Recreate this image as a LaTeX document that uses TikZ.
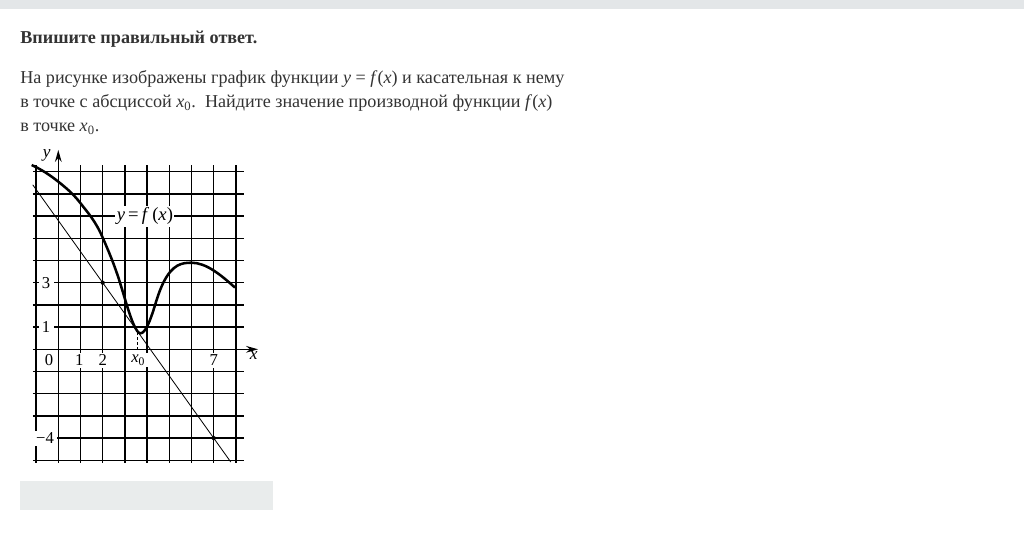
\documentclass[tikz,border=0pt]{standalone}
\usepackage{fontspec}
\setmainfont{Liberation Serif}
\usetikzlibrary{arrows.meta,calc}
\definecolor{band}{HTML}{E3E6E8}
\definecolor{boxgray}{HTML}{E9ECEC}
\definecolor{txt}{HTML}{333333}
\tikzset{
  bodytext/.style={anchor=base west, inner sep=0pt, text=txt, font=\fontsize{13.6pt}{16pt}\selectfont},
  gridline/.style={line width=1pt, black},
  curveline/.style={line width=1.9pt, black, line join=round},
  tline/.style={line width=0.6pt, black},
  lab/.style={fill=white, inner xsep=2.5pt, inner ysep=1.5pt, font=\fontsize{12.5pt}{14pt}\selectfont},
  axlab/.style={inner sep=0pt, font=\itshape\fontsize{13pt}{14pt}\selectfont},
  arr/.style={-{Stealth[length=9pt,width=5pt]}}
}
\begin{document}
\begin{tikzpicture}[x=0.75pt,y=-0.75pt]
\useasboundingbox (0,0) rectangle (1024,538);
\fill[white] (0,0) rectangle (1024,538);
\fill[band] (0,0) rectangle (1024,9);
\fill[boxgray] (20,481) rectangle (273,510);

\node[bodytext, font=\bfseries\fontsize{13.6pt}{16pt}\selectfont] (head) at (20,44) {Впишите правильный ответ.};
\node[bodytext] (l1) at (20,84) {На рисунке изображены график функции \textit{y} = \textit{f}(\textit{x}) и касательная к нему};
\node[bodytext] (l2) at (20,108) {в точке с абсциссой \textit{x}\textsubscript{0}.\ \ Найдите значение производной функции \textit{f}(\textit{x})};
\node[bodytext] (l3) at (20,132) {в точке \textit{x}\textsubscript{0}.};

\begin{scope}[shift={(58.3,349.3)}, x=16.65pt, y=16.65pt]
  % grid
  \foreach \i in {-5,-4,-3,-2,-1,1,2,3,4,5,6,7,8}
    \draw[gridline] (-1.15,\i) -- (8.35,\i);
  \foreach \i in {-1,1,2,3,4,5,6,7,8}
    \draw[gridline] (\i,-5.12) -- (\i,8.3);
  % axes
  \coordinate (xs) at (-1.15,0);
  \coordinate (xe) at (9.0,0);
  \coordinate (ys) at (0,-5.12);
  \coordinate (ye) at (0,8.98);
  \draw[gridline, arr] (xs) -- (xe);
  \draw[gridline, arr] (ys) -- (ye);

  % labels
  \node[lab] (n3) at (-0.55,3) {3};
  \node[lab] (n1y) at (-0.55,1) {1};
  \node[lab] (n0) at (-0.42,-0.5) {0};
  \node[lab] (n1) at (0.95,-0.5) {1};
  \node[lab] (n2) at (2,-0.5) {2};
  \node[lab] (nx0) at (3.6,-0.5) {\textit{x}\textsubscript{0}};
  \node[lab] (n7) at (7,-0.5) {7};
  \node[lab] (nm4) at (-0.6,-4) {−4};
  \node[axlab] (ylab) at (-0.52,8.75) {y};
  \node[axlab] (xlab) at (8.8,-0.3) {x};
  \node[lab, inner xsep=1pt, font=\fontsize{14pt}{16pt}\selectfont] (flab) at (3.9,6) {\textit{y}\,=\,\textit{f}\,(\textit{x})};

  % tangent line
  \coordinate (A) at (2,3);
  \coordinate (B) at (7,-4);
  \coordinate (T) at (3.55,0.83);
  \coordinate (Tx) at (3.55,0);
  \draw[tline] ($(A)!-0.63!(B)$) coordinate (ts) -- ($(A)!1.154!(B)$) coordinate (te);
  \fill (A) circle[radius=1.6pt];
  \fill (B) circle[radius=1.6pt];
  \draw[line width=0.6pt, dash pattern=on 2pt off 1.5pt] (Tx) -- (T);

  % curve
  \draw[curveline] (-1.2,8.3)
    .. controls (-0.8,8.12) and (-0.4,7.87) .. (0,7.55)
    .. controls (0.333,7.283) and (0.667,7.013) .. (1,6.58)
    .. controls (1.333,6.147) and (1.667,5.797) .. (2,5.03)
    .. controls (2.26,4.432) and (2.52,3.832) .. (2.78,3)
    .. controls (3.037,2.179) and (3.293,1.189) .. (T)
    .. controls (3.6,0.76) and (3.65,0.72) .. (3.7,0.72)
    .. controls (3.92,0.72) and (4.14,1.274) .. (4.36,2.0)
    .. controls (4.483,2.407) and (4.607,2.753) .. (4.73,3.0)
    .. controls (5.153,3.847) and (5.577,3.9) .. (6,3.9)
    .. controls (6.653,3.9) and (7.307,3.368) .. (7.96,2.78);
\end{scope}
\end{tikzpicture}
\end{document}
